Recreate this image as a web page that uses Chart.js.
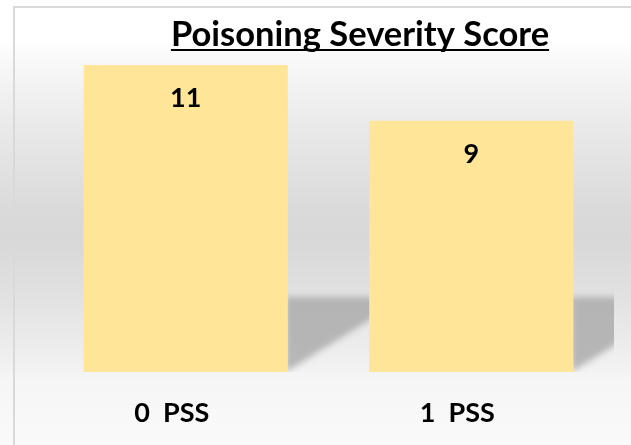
<!DOCTYPE html>
<html>
<head>
<meta charset="utf-8">
<script src="https://cdn.jsdelivr.net/npm/chart.js@4/dist/chart.umd.min.js"></script>
<style>
  html, body { margin: 0; padding: 0; }
  body {
    width: 631px; height: 445px; overflow: hidden; position: relative;
    background: linear-gradient(to bottom, #ffffff 0px, #ffffff 40px, #f6f6f6 70px, #e9e9e9 130px, #dadada 210px, #d8d8d8 240px, #e2e2e2 300px, #f1f1f1 365px, #f6f6f6 380px, #fafafa 445px);
  }
  #frame {
    position: absolute; left: 13px; top: 6px; right: -4px; bottom: -4px;
    border-left: 2px solid #d9d9d9; border-top: 2px solid #d9d9d9;
  }
  canvas { position: absolute; left: 0; top: 0; }
</style>
</head>
<body>
<div id="frame"></div>
<canvas id="c" width="631" height="445"></canvas>
<script>
const chartTitle = "Poisoning Severity Score";
const categories = ["0  PSS", "1  PSS"];
const values = [11, 9];

const FONT = "Lato, 'Open Sans', sans-serif";

const shadowPlugin = {
  id: 'barShadow',
  beforeDatasetsDraw(chart) {
    const ctx = chart.ctx;
    const area = chart.chartArea;
    const meta = chart.getDatasetMeta(0);
    ctx.save();
    ctx.beginPath();
    ctx.rect(area.left, area.top, area.right - area.left, area.bottom - area.top);
    ctx.clip();
    ctx.filter = 'blur(3px)';
    meta.data.forEach(bar => {
      const right = bar.x + bar.width / 2;
      const bottom = bar.base;
      const h = 75, w = 119;
      ctx.fillStyle = 'rgba(172,172,172,0.85)';
      ctx.beginPath();
      ctx.moveTo(right - 2, bottom - h);
      ctx.lineTo(right + w, bottom - h);
      ctx.lineTo(right - 2, bottom);
      ctx.closePath();
      ctx.fill();
    });
    ctx.restore();
  }
};

const labelPlugin = {
  id: 'valueLabels',
  afterDatasetsDraw(chart) {
    const ctx = chart.ctx;
    const meta = chart.getDatasetMeta(0);
    ctx.save();
    ctx.font = "bold 27px " + FONT;
    ctx.fillStyle = '#000';
    ctx.textAlign = 'center';
    ctx.textBaseline = 'middle';
    meta.data.forEach((bar, i) => {
      ctx.fillText(String(values[i]), bar.x, bar.y + 33);
    });
    ctx.restore();
  }
};

const titlePlugin = {
  id: 'ulTitle',
  afterDraw(chart) {
    const ctx = chart.ctx;
    ctx.save();
    ctx.font = "bold 34.5px " + FONT;
    ctx.fillStyle = '#000';
    ctx.textAlign = 'center';
    ctx.textBaseline = 'alphabetic';
    const cx = 360, base = 46;
    ctx.fillText(chartTitle, cx, base);
    const w = ctx.measureText(chartTitle).width;
    ctx.fillRect(cx - w / 2, base + 3, w, 2);
    ctx.restore();
  }
};

new Chart(document.getElementById('c'), {
  type: 'bar',
  data: {
    labels: categories,
    datasets: [{
      data: values,
      backgroundColor: '#FFE597',
      borderWidth: 0,
      categoryPercentage: 1.0,
      barPercentage: 0.715
    }]
  },
  options: {
    responsive: false,
    animation: false,
    devicePixelRatio: 1,
    layout: { padding: { left: 43, right: 17, top: 65, bottom: 0 } },
    plugins: {
      legend: { display: false },
      tooltip: { enabled: false },
      title: { display: false }
    },
    scales: {
      y: { display: false, min: 0, max: 11 },
      x: {
        grid: { display: false, drawTicks: false },
        border: { display: false },
        afterFit(axis) { axis.height = 73; },
        ticks: {
          padding: 25,
          labelOffset: -14,
          maxRotation: 0,
          color: '#000',
          font: { family: FONT, size: 27, weight: 'bold' }
        }
      }
    }
  },
  plugins: [shadowPlugin, labelPlugin, titlePlugin]
});
</script>
</body>
</html>
